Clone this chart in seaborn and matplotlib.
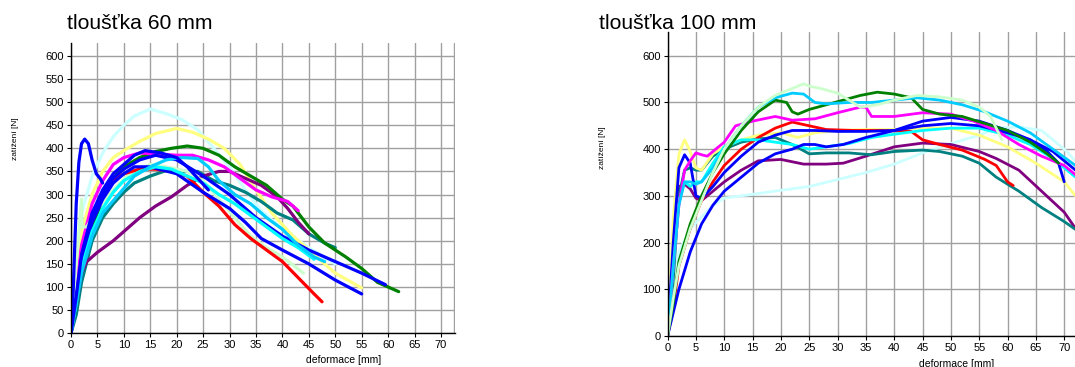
import matplotlib
matplotlib.use("Agg")
import matplotlib.pyplot as plt
import seaborn as sns

# ------------------------------------------------------------
# Data: tloušťka 60 mm  (deformace [mm], zatížení [N])
# ------------------------------------------------------------
b60_spike_x = [0, 0.3, 0.6, 1, 1.5, 2, 2.6, 3.3, 4, 4.8, 5.5, 6]
b60_spike_y = [0, 50, 150, 280, 370, 410, 420, 410, 375, 345, 335, 325]
lc60_x = [0, 1, 2, 4, 6, 8, 10, 12, 15, 18, 21, 24, 27, 30, 33, 36, 40, 45, 50]
lc60_y = [0, 150, 260, 340, 390, 425, 450, 470, 485, 475, 462, 440, 400, 360, 310, 265, 225, 185, 150]
ye60_x = [0, 1, 2, 4, 6, 8, 10, 13, 16, 20, 23, 26, 29, 32, 35, 38, 42, 46, 50, 55]
ye60_y = [0, 120, 220, 300, 350, 380, 395, 415, 432, 443, 435, 420, 400, 365, 310, 260, 210, 170, 130, 98]
gr60_x = [0, 1, 2, 4, 6, 8, 10, 13, 16, 19, 22, 25, 28, 31, 34, 37, 40, 42, 45, 48, 52, 55, 58, 62]
gr60_y = [0, 60, 140, 230, 290, 335, 360, 380, 393, 400, 405, 400, 385, 360, 340, 320, 290, 275, 230, 195, 165, 140, 110, 90]
mg60_x = [0, 1, 2, 4, 6, 8, 10, 13, 16, 20, 23, 26, 29, 32, 35, 38, 41, 43]
mg60_y = [0, 100, 190, 280, 330, 365, 380, 390, 388, 385, 385, 375, 360, 335, 310, 295, 285, 265]
bA60_x = [0, 1, 2, 4, 6, 8, 10, 12, 14, 17, 20, 22, 24, 26]
bA60_y = [0, 80, 170, 260, 310, 345, 365, 385, 395, 390, 380, 360, 335, 310]
bB60_x = [0, 1, 2, 4, 6, 8, 10, 12, 15, 20, 25, 30, 33, 36, 40, 45, 50, 55]
bB60_y = [0, 70, 150, 240, 290, 325, 345, 360, 360, 345, 305, 270, 240, 205, 180, 150, 115, 85]
bC60_x = [0, 1, 2, 4, 6, 8, 10, 13, 16, 20, 25, 30, 35, 40, 45, 50, 55, 59.5]
bC60_y = [0, 75, 160, 250, 300, 335, 355, 375, 385, 375, 340, 300, 250, 210, 180, 155, 130, 105]
pu60_x = [0, 1, 2, 3, 5, 8, 10, 13, 16, 19, 22, 25, 28, 30, 33, 36, 39, 41, 43, 45]
pu60_y = [0, 60, 130, 155, 175, 200, 220, 250, 275, 295, 320, 340, 350, 350, 335, 320, 295, 270, 240, 215]
te60_x = [0, 1, 2, 4, 6, 8, 10, 12, 15, 18, 21, 24, 27, 30, 33, 36, 39, 42, 45, 48, 50]
te60_y = [0, 40, 110, 200, 250, 280, 305, 325, 340, 352, 350, 350, 330, 320, 305, 285, 260, 245, 215, 195, 185]
re60_x = [0, 1, 2, 4, 6, 8, 10, 13, 16, 19, 22, 25, 28, 31, 34, 37, 40, 43, 46, 47.5]
re60_y = [0, 70, 150, 250, 305, 330, 345, 355, 355, 350, 340, 305, 275, 235, 205, 180, 155, 120, 85, 68]
lg60_x = [0, 1, 2, 2.1, 3, 5, 8, 11, 15, 18, 22, 25, 28, 31, 34, 37, 40, 44]
lg60_y = [0, 150, 290, 230, 230, 270, 310, 345, 365, 360, 350, 330, 290, 250, 210, 185, 165, 130]
cy60_x = [0, 1, 2, 4, 6, 8, 10, 13, 16, 19, 22, 25, 28, 31, 34, 37, 40, 43, 46]
cy60_y = [0, 70, 140, 220, 270, 305, 330, 350, 360, 355, 340, 325, 300, 280, 255, 230, 205, 185, 160]
sb60_x = [0, 1, 2, 4, 6, 9, 12, 15, 18, 21, 24, 26, 28, 31, 34, 37, 40, 43, 46, 48]
sb60_y = [0, 60, 130, 210, 260, 300, 340, 360, 375, 380, 378, 360, 330, 300, 280, 250, 225, 190, 165, 155]

# ------------------------------------------------------------
# Data: tloušťka 100 mm
# ------------------------------------------------------------
lg100_x = [0, 1, 2, 4, 6, 8, 10, 13, 16, 19, 22, 24, 25, 27, 30, 32, 34, 37, 40, 44, 48, 52, 55, 57, 59]
lg100_y = [0, 80, 150, 230, 290, 350, 400, 450, 490, 515, 530, 540, 535, 530, 520, 505, 490, 495, 505, 515, 512, 505, 490, 470, 420]
gr100_x = [0, 1, 2, 4, 6, 8, 10, 13, 16, 19, 21, 22, 23, 25, 28, 31, 34, 37, 40, 43, 45, 48, 52, 56, 60, 64, 67, 69]
gr100_y = [0, 70, 160, 240, 300, 350, 390, 440, 480, 505, 500, 480, 475, 485, 495, 505, 515, 522, 518, 510, 485, 475, 470, 455, 440, 415, 390, 370]
sb100_x = [0, 1, 2, 3, 4, 5, 6, 8, 10, 13, 16, 19, 22, 24, 26, 28, 32, 36, 40, 44, 48, 52, 56, 60, 64, 68, 72]
sb100_y = [0, 150, 280, 330, 330, 325, 330, 360, 400, 450, 490, 510, 520, 518, 500, 497, 500, 500, 505, 510, 505, 495, 480, 460, 435, 400, 365]
mg100_x = [0, 1, 2, 3, 4, 5, 6, 7, 8, 10, 12, 15, 19, 22, 26, 30, 34, 35, 36, 40, 45, 50, 54, 58, 62, 66, 70, 72]
mg100_y = [0, 150, 280, 355, 375, 392, 388, 385, 395, 415, 450, 460, 470, 462, 465, 478, 490, 490, 470, 470, 478, 475, 460, 440, 410, 385, 365, 345]
re100_x = [0, 1, 2, 4, 6, 8, 10, 13, 16, 19, 22, 25, 28, 33, 38, 43, 45, 48, 52, 56, 58, 60, 61]
re100_y = [0, 60, 150, 230, 290, 330, 365, 400, 425, 445, 458, 450, 442, 440, 440, 438, 420, 410, 398, 378, 365, 330, 322]
bA100_x = [0, 1, 2, 3, 4, 5, 6, 8, 10, 13, 16, 19, 22, 26, 30, 35, 40, 45, 50, 55, 60, 64, 68, 72]
bA100_y = [0, 200, 360, 388, 370, 300, 295, 320, 350, 385, 415, 430, 440, 440, 438, 438, 440, 450, 455, 450, 435, 420, 395, 355]
bB100_x = [0, 2, 4, 6, 8, 10, 13, 16, 19, 22, 24, 26, 28, 31, 35, 40, 45, 50, 55, 60, 64, 67, 69, 70]
bB100_y = [0, 100, 180, 240, 280, 310, 340, 370, 390, 400, 410, 410, 405, 410, 425, 440, 460, 468, 460, 440, 420, 395, 370, 330]
ye100_x = [0, 1, 2, 3, 4, 5, 6, 8, 10, 13, 16, 20, 23, 26, 30, 35, 40, 45, 50, 55, 60, 65, 70, 72]
ye100_y = [0, 250, 390, 420, 395, 360, 355, 390, 405, 420, 430, 435, 425, 435, 440, 442, 442, 445, 445, 430, 405, 370, 330, 300]
cy100_x = [0, 1, 2, 3, 4, 5, 6, 8, 10, 13, 16, 19, 22, 25, 28, 32, 36, 40, 45, 50, 55, 60, 64, 68, 72]
cy100_y = [0, 150, 290, 330, 320, 330, 330, 370, 405, 420, 420, 415, 410, 400, 405, 412, 425, 432, 440, 445, 445, 430, 410, 380, 340]
te100_x = [0, 1, 2, 3, 4, 5, 6, 8, 10, 13, 16, 19, 22, 25, 28, 32, 36, 40, 45, 48, 52, 55, 58, 62, 66, 70, 72]
te100_y = [0, 120, 300, 355, 360, 355, 355, 385, 400, 415, 422, 425, 410, 390, 392, 392, 388, 395, 398, 395, 385, 370, 340, 310, 275, 245, 228]
pu100_x = [0, 1, 2, 3, 4, 5, 6, 8, 10, 13, 16, 20, 24, 28, 31, 35, 40, 45, 50, 55, 58, 62, 66, 70, 72]
pu100_y = [0, 200, 320, 325, 315, 295, 290, 310, 330, 355, 375, 378, 368, 368, 370, 385, 405, 413, 410, 395, 380, 355, 310, 265, 230]
lc100_x = [0, 1, 2, 4, 6, 8, 10, 13, 16, 20, 25, 30, 35, 40, 45, 50, 55, 58, 62, 66, 70, 72]
lc100_y = [0, 120, 180, 230, 255, 280, 295, 300, 305, 312, 320, 335, 350, 368, 392, 412, 430, 445, 448, 440, 400, 375]

# barvy (paleta Excelu)
BLUE, LCYAN, YELLOW, GREEN = "#0000FF", "#CCFFFF", "#FFFF80", "#008000"
MAGENTA, PURPLE, TEAL, RED = "#FF00FF", "#800080", "#008080", "#FF0000"
LGREEN, CYAN, SKY = "#CCFFCC", "#00FFFF", "#00CCFF"

curves60 = [
    (lc60_x, lc60_y, LCYAN), (ye60_x, ye60_y, YELLOW), (te60_x, te60_y, TEAL),
    (pu60_x, pu60_y, PURPLE), (gr60_x, gr60_y, GREEN), (mg60_x, mg60_y, MAGENTA),
    (lg60_x, lg60_y, LGREEN), (re60_x, re60_y, RED), (bB60_x, bB60_y, BLUE),
    (bC60_x, bC60_y, BLUE), (cy60_x, cy60_y, CYAN), (sb60_x, sb60_y, SKY),
    (bA60_x, bA60_y, BLUE), (b60_spike_x, b60_spike_y, BLUE),
]
curves100 = [
    (lc100_x, lc100_y, LCYAN), (pu100_x, pu100_y, PURPLE), (te100_x, te100_y, TEAL),
    (ye100_x, ye100_y, YELLOW), (re100_x, re100_y, RED), (cy100_x, cy100_y, CYAN),
    (bB100_x, bB100_y, BLUE), (bA100_x, bA100_y, BLUE), (mg100_x, mg100_y, MAGENTA),
    (gr100_x, gr100_y, GREEN), (sb100_x, sb100_y, SKY), (lg100_x, lg100_y, LGREEN),
]

sns.set_style("white")
plt.rcParams['font.family'] = ['Liberation Sans', 'DejaVu Sans']
plt.rcParams['text.color'] = 'black'
plt.rcParams['axes.labelcolor'] = 'black'
plt.rcParams['xtick.color'] = 'black'
plt.rcParams['ytick.color'] = 'black'

fig = plt.figure(figsize=(10.75, 3.67), dpi=100)
ax1 = fig.add_axes([0.066, 0.092, 0.357, 0.791])
ax2 = fig.add_axes([0.621, 0.0845, 0.379, 0.8285])


def styl(ax, xmax, ymax, ystep):
    ax.set_xlim(0, xmax)
    ax.set_ylim(0, ymax)
    ax.set_xticks(range(0, 71, 5))
    ax.set_yticks(range(0, 601, ystep))
    ax.grid(True, color="#A0A0A0", linewidth=1.0)
    ax.set_axisbelow(True)
    for s in ["top", "right"]:
        ax.spines[s].set_visible(False)
    for s in ["left", "bottom"]:
        ax.spines[s].set_color("black")
        ax.spines[s].set_linewidth(1.0)
    ax.tick_params(axis="both", labelsize=8, length=3, width=0.8, color="black", pad=2, left=True, bottom=True)
    ax.set_xlabel("deformace [mm]", fontsize=7.5, labelpad=0)
    ax.xaxis.set_label_coords(0.71, -0.075)
    ax.set_ylabel("zatížení [N]", fontsize=6)


for x, y, c in curves60:
    sns.lineplot(x=x, y=y, color=c, ax=ax1, sort=False, estimator=None, linewidth=2.3)
for x, y, c in curves100:
    sns.lineplot(x=x, y=y, color=c, ax=ax2, sort=False, estimator=None, linewidth=2.0)

styl(ax1, 72.6, 628, 50)
ax1.yaxis.set_label_coords(-0.135, 0.67)
ax1.axvline(72.5, color="#A0A0A0", linewidth=1.0)
styl(ax2, 71.9, 651, 100)
ax2.yaxis.set_label_coords(-0.15, 0.62)

fig.text(67 / 1075, 1 - 29 / 367, "tloušťka 60 mm", fontsize=15.2, va="baseline", ha="left")
fig.text(599 / 1075, 1 - 29 / 367, "tloušťka 100 mm", fontsize=15.2, va="baseline", ha="left")

fig.savefig("out.png", dpi=100)
